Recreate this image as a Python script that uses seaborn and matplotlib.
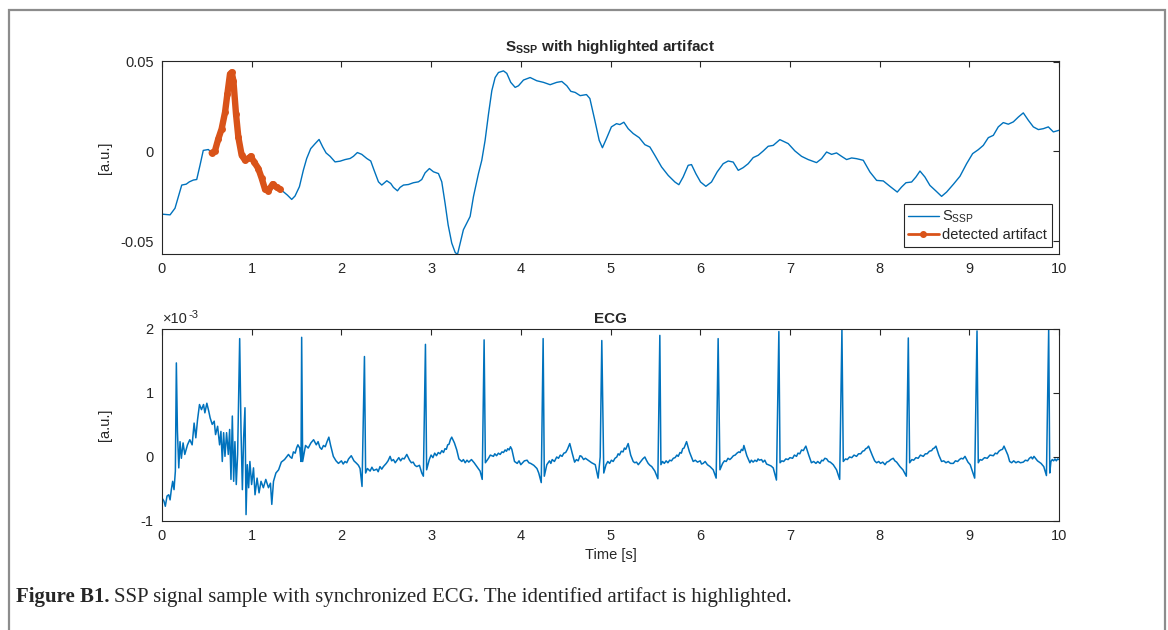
import numpy as np
import pandas as pd
import matplotlib
matplotlib.use("Agg")
import matplotlib.pyplot as plt
import seaborn as sns
from matplotlib.lines import Line2D
from matplotlib.patches import Rectangle

# ---------------------------------------------------------------------------
# SSP signal (time in s, amplitude in a.u.)
ssp_time = [
    0.00, 0.09, 0.145, 0.22, 0.27, 0.305, 0.35, 0.387, 0.424, 0.46, 0.517,
    0.554, 0.59, 0.628, 0.665, 0.703, 0.729, 0.758, 0.777, 0.796, 0.825,
    0.851, 0.888, 0.926, 0.963, 0.989, 1.026, 1.074, 1.112, 1.149, 1.186,
    1.234, 1.279, 1.316, 1.353, 1.398, 1.446, 1.483, 1.532, 1.576, 1.613,
    1.658, 1.706, 1.751, 1.792, 1.829, 1.874, 1.929, 1.985, 2.041, 2.097,
    2.134, 2.178, 2.227, 2.283, 2.327, 2.364, 2.413, 2.45, 2.506, 2.55,
    2.58, 2.625, 2.654, 2.692, 2.747, 2.803, 2.859, 2.896, 2.933, 2.981,
    3.026, 3.082, 3.119, 3.156, 3.19, 3.23, 3.268, 3.294, 3.32, 3.36,
    3.398, 3.435, 3.472, 3.528, 3.565, 3.602, 3.64, 3.677, 3.714, 3.751,
    3.807, 3.844, 3.888, 3.937, 3.974, 4.03, 4.104, 4.178, 4.253, 4.327,
    4.40, 4.457, 4.513, 4.558, 4.606, 4.662, 4.732, 4.77, 4.825, 4.874,
    4.91, 4.955, 5.01, 5.067, 5.104, 5.149, 5.197, 5.253, 5.32, 5.383,
    5.439, 5.494, 5.569, 5.643, 5.718, 5.762, 5.81, 5.866, 5.903, 5.952,
    6.004, 6.063, 6.126, 6.189, 6.256, 6.312, 6.368, 6.424, 6.479, 6.535,
    6.591, 6.647, 6.703, 6.758, 6.814, 6.888, 6.981, 7.056, 7.13, 7.204,
    7.297, 7.353, 7.409, 7.465, 7.52, 7.576, 7.632, 7.688, 7.743, 7.818,
    7.892, 7.967, 8.041, 8.115, 8.197, 8.245, 8.294, 8.357, 8.405, 8.45,
    8.505, 8.561, 8.628, 8.691, 8.747, 8.822, 8.896, 8.97, 9.037, 9.10,
    9.156, 9.212, 9.268, 9.323, 9.379, 9.435, 9.491, 9.547, 9.602, 9.658,
    9.714, 9.77, 9.825, 9.881, 9.937, 10.0,
]
ssp_value = [
    -0.0350, -0.0354, -0.0317, -0.0188, -0.0183, -0.0170, -0.0160, -0.0157,
    -0.0077, 0.0005, 0.0010,
    -0.0009, 0.0002, 0.0070, 0.0125, 0.0218, 0.0320, 0.0430, 0.0440, 0.0393,
    0.0208, 0.0079, -0.0022, -0.0050, -0.0040, -0.0028, -0.0059, -0.0096,
    -0.0151, -0.0212, -0.0220, -0.0183, -0.0201, -0.0212, -0.0225, -0.0244,
    -0.0268, -0.0249, -0.0197, -0.0105, -0.0040, 0.0015, 0.0042, 0.0066,
    0.0024, -0.0009, -0.0028, -0.0059, -0.0055, -0.0046, -0.0040, -0.0028,
    -0.0007, -0.0017, -0.0040, -0.0054, -0.0105, -0.0170, -0.0188, -0.0164,
    -0.0179, -0.0201, -0.0220, -0.0201, -0.0188, -0.0185, -0.0175, -0.0170,
    -0.0157, -0.0120, -0.0096, -0.0114, -0.0124, -0.0170, -0.0290, -0.0410,
    -0.0511, -0.0563, -0.0575, -0.0520, -0.0437, -0.0400, -0.0363, -0.0253,
    -0.0124, -0.0050, 0.0061, 0.0208, 0.0338, 0.0411, 0.0439, 0.0448,
    0.0434, 0.0384, 0.0356, 0.0365, 0.0397, 0.0411, 0.0393, 0.0384, 0.0371,
    0.0384, 0.0389, 0.0365, 0.0334, 0.0328, 0.0310, 0.0316, 0.0294, 0.0173,
    0.0061, 0.0020, 0.0071, 0.0136, 0.0154, 0.0149, 0.0162, 0.0126, 0.0099,
    0.0076, 0.0037, 0.0024, -0.0022, -0.0087, -0.0134, -0.0171, -0.0186,
    -0.0143, -0.0078, -0.0074, -0.0125, -0.0171, -0.0195, -0.0171, -0.0115,
    -0.0069, -0.0054, -0.0060, -0.0106, -0.0091, -0.0069, -0.0035, -0.0022,
    0.0002, 0.0028, 0.0033, 0.0065, 0.0043, 0.0002, -0.0028, -0.0046,
    -0.0063, -0.0041, -0.0004, -0.0017, -0.0009, -0.0028, -0.0046, -0.0037,
    -0.0041, -0.0050, -0.0115, -0.0162, -0.0165, -0.0195, -0.0227, -0.0199,
    -0.0175, -0.0171, -0.0143, -0.0110, -0.0143, -0.0190, -0.0221, -0.0251,
    -0.0227, -0.0184, -0.0139, -0.0069, -0.0013, 0.0009, 0.0033, 0.0076,
    0.0089, 0.0136, 0.0160, 0.0151, 0.0164, 0.0191, 0.0214, 0.0173, 0.0136,
    0.0121, 0.0126, 0.0136, 0.0108, 0.0117,
]

# Interval flagged as an artifact
artifact_start = 0.55
artifact_end = 1.32

# ---------------------------------------------------------------------------
# ECG (time in s, amplitude in units of 1e-3 a.u.)
ecg_time = [
    # noisy onset with motion artifact
    0.000, 0.022, 0.037, 0.056, 0.075, 0.090, 0.104, 0.119, 0.134, 0.149,
    0.160, 0.172, 0.187, 0.201, 0.216, 0.235, 0.254, 0.284, 0.310, 0.336,
    0.358, 0.377, 0.396, 0.418, 0.440, 0.463, 0.478, 0.500, 0.522, 0.537,
    0.560, 0.582, 0.597, 0.620, 0.642, 0.657, 0.672, 0.687, 0.702, 0.720,
    0.739, 0.754, 0.769, 0.784, 0.799, 0.813, 0.828, 0.843, 0.866, 0.881,
    0.896, 0.910, 0.925, 0.937, 0.951, 0.966, 0.980, 0.999, 1.020, 1.037,
    1.060, 1.082, 1.104, 1.130, 1.157, 1.187, 1.209, 1.224, 1.243, 1.270,
    1.300, 1.330, 1.366, 1.388, 1.410, 1.430, 1.448, 1.465, 1.485, 1.500,
    1.515, 1.535, 1.550,
    # beat at 1.57 s
    1.557, 1.568, 1.600, 1.630, 1.660, 1.690, 1.720, 1.740, 1.760, 1.780,
    1.800, 1.820, 1.840, 1.860, 1.880, 1.910, 1.940, 1.967, 2.000, 2.020,
    2.040, 2.060, 2.080, 2.110, 2.140, 2.170, 2.190, 2.208, 2.230,
    # beat at 2.26 s
    2.257, 2.270, 2.290, 2.320, 2.340, 2.360, 2.394, 2.410, 2.430, 2.450,
    2.468, 2.500, 2.520, 2.543, 2.560, 2.580, 2.600, 2.620, 2.640, 2.660,
    2.680, 2.700, 2.729, 2.760, 2.780, 2.800, 2.820, 2.840, 2.870, 2.896,
    2.914,
    # beat at 2.94 s
    2.937, 2.950, 2.980, 3.000, 3.020, 3.040, 3.060, 3.080, 3.100, 3.120,
    3.138, 3.155, 3.170, 3.185, 3.200, 3.215, 3.230, 3.260, 3.286, 3.310,
    3.342, 3.360, 3.380, 3.400, 3.420, 3.450, 3.480, 3.510, 3.546, 3.570,
    # beat at 3.59 s
    3.591, 3.605, 3.640, 3.660, 3.695, 3.710, 3.730, 3.750, 3.770, 3.790,
    3.807, 3.825, 3.840, 3.855, 3.870, 3.885, 3.900, 3.930, 3.960, 3.980,
    4.000, 4.020, 4.040, 4.070, 4.090, 4.110, 4.145, 4.180, 4.200, 4.228,
    # beat at 4.25 s
    4.249, 4.262, 4.290, 4.320, 4.335, 4.350, 4.375, 4.400, 4.420, 4.440,
    4.460, 4.480, 4.500, 4.520, 4.546, 4.575, 4.600, 4.620, 4.640, 4.660,
    4.677, 4.700, 4.720, 4.750, 4.790, 4.830, 4.862, 4.885,
    # beat at 4.90 s
    4.903, 4.925, 4.950, 4.970, 4.990, 5.010, 5.030, 5.050, 5.070, 5.085,
    5.100, 5.120, 5.140, 5.155, 5.170, 5.197, 5.225, 5.253, 5.270, 5.290,
    5.310, 5.327, 5.345, 5.360, 5.383, 5.400, 5.420, 5.440, 5.460, 5.494,
    5.528,
    # beat at 5.55 s
    5.550, 5.562, 5.580, 5.600, 5.620, 5.640, 5.660, 5.680, 5.700, 5.720,
    5.740, 5.755, 5.775, 5.790, 5.805, 5.820, 5.848, 5.880, 5.922, 5.945,
    5.970, 6.000, 6.015, 6.033, 6.055, 6.080, 6.110, 6.145, 6.178,
    # beat at 6.20 s
    6.200, 6.220, 6.250, 6.270, 6.290, 6.310, 6.330, 6.346, 6.370, 6.390,
    6.410, 6.430, 6.445, 6.460, 6.475, 6.487, 6.520, 6.554, 6.570, 6.590,
    6.610, 6.630, 6.645, 6.660, 6.684, 6.700, 6.720, 6.740, 6.758, 6.790,
    6.814, 6.850,
    # beat at 6.88 s
    6.877, 6.890, 6.910, 6.930, 6.955, 6.980, 7.000, 7.030, 7.050, 7.074,
    7.090, 7.110, 7.130, 7.150, 7.165, 7.178, 7.210, 7.240, 7.265, 7.290,
    7.310, 7.335, 7.355, 7.370, 7.390, 7.410, 7.430, 7.450, 7.483, 7.520,
    7.555,
    # beat at 7.58 s
    7.580, 7.595, 7.620, 7.640, 7.665, 7.690, 7.715, 7.743, 7.765, 7.790,
    7.810, 7.830, 7.845, 7.860, 7.877, 7.920, 7.945, 7.967, 7.990, 8.010,
    8.035, 8.060, 8.080, 8.100, 8.125, 8.152, 8.170, 8.190, 8.227, 8.260,
    8.298,
    # beat at 8.32 s
    8.320, 8.335, 8.360, 8.380, 8.405, 8.430, 8.455, 8.487, 8.510, 8.530,
    8.555, 8.580, 8.595, 8.610, 8.628, 8.660, 8.691, 8.715, 8.740, 8.765,
    8.790, 8.822, 8.845, 8.870, 8.890, 8.910, 8.930, 8.952, 8.985, 9.010,
    9.060,
    # beat at 9.09 s
    9.086, 9.100, 9.120, 9.140, 9.170, 9.200, 9.230, 9.268, 9.290, 9.310,
    9.330, 9.350, 9.370, 9.387, 9.430, 9.450, 9.472, 9.495, 9.520, 9.545,
    9.570, 9.602, 9.625, 9.650, 9.670, 9.690, 9.705, 9.721, 9.760, 9.800,
    9.830, 9.860,
    # beat at 9.89 s
    9.885, 9.897, 9.910, 9.925, 9.940, 9.955, 9.970, 9.985, 10.000,
]
ecg_value = [
    -0.64, -0.69, -0.77, -0.61, -0.59, -0.67, -0.51, -0.38, -0.51, -0.22,
    1.47, 0.40, -0.17, 0.24, -0.02, 0.22, 0.04, 0.19, 0.27, 0.19,
    0.53, 0.30, 0.58, 0.82, 0.74, 0.82, 0.69, 0.84, 0.71, 0.61,
    0.51, 0.56, 0.35, 0.48, 0.19, 0.40, -0.07, 0.38, 0.01, 0.38,
    0.04, 0.43, -0.35, 0.64, -0.38, 0.24, -0.43, 0.04, 1.85, 0.40,
    -0.51, 0.30, 0.77, -0.90, -0.12, -0.48, -0.07, -0.43, -0.17, -0.59,
    -0.33, -0.56, -0.38, -0.48, -0.35, -0.48, -0.41, -0.74, -0.38, -0.25,
    -0.20, -0.08, -0.04, 0.00, 0.04, 0.00, -0.02, 0.08, 0.06, 0.14,
    0.19, 0.14, -0.07,
    # beat at 1.57 s
    1.87, -0.07, 0.18, 0.14, 0.22, 0.27, 0.19, 0.24, 0.15, 0.12,
    0.18, 0.16, 0.24, 0.31, 0.18, 0.01, -0.06, -0.10, -0.06, -0.11,
    -0.07, -0.09, -0.03, 0.02, -0.06, -0.10, -0.13, -0.18, -0.46,
    # beat at 2.26 s
    1.57, -0.25, -0.18, -0.22, -0.16, -0.21, -0.19, -0.23, -0.15, -0.19,
    -0.15, -0.10, -0.06, 0.01, -0.06, -0.04, -0.09, -0.05, -0.01, -0.06,
    -0.02, -0.03, 0.04, -0.05, -0.09, -0.08, -0.13, -0.15, -0.13, -0.25,
    -0.30,
    # beat at 2.94 s
    1.76, -0.20, -0.04, 0.03, -0.01, 0.06, 0.02, 0.07, 0.05, 0.10,
    0.07, 0.13, 0.12, 0.19, 0.20, 0.27, 0.31, 0.22, 0.11, -0.03,
    -0.07, -0.04, -0.09, -0.05, -0.08, -0.04, -0.09, -0.15, -0.22, -0.35,
    # beat at 3.59 s
    1.83, -0.09, -0.02, 0.03, 0.01, 0.05, 0.02, 0.06, 0.04, 0.08,
    0.07, 0.11, 0.09, 0.13, 0.11, 0.16, 0.12, -0.07, -0.10, -0.06,
    -0.12, -0.09, -0.06, -0.05, -0.09, -0.10, -0.13, -0.18, -0.25, -0.40,
    # beat at 4.25 s
    1.85, -0.30, -0.12, -0.06, -0.10, -0.04, -0.07, 0.00, -0.02, 0.03,
    0.01, 0.06, 0.07, 0.12, 0.21, 0.05, -0.08, -0.04, -0.06, 0.02,
    0.01, -0.04, -0.02, -0.05, -0.09, -0.12, -0.33, 0.00,
    # beat at 4.90 s
    1.82, -0.25, -0.12, -0.07, -0.10, -0.05, -0.07, -0.02, 0.00, 0.05,
    0.03, 0.09, 0.08, 0.14, 0.12, 0.21, 0.03, -0.07, -0.09, -0.08,
    -0.12, -0.09, -0.06, -0.03, 0.00, -0.05, -0.10, -0.13, -0.15, -0.22,
    -0.34,
    # beat at 5.55 s
    1.90, -0.12, -0.07, -0.10, -0.06, -0.09, -0.05, -0.06, -0.02, -0.01,
    0.03, 0.01, 0.07, 0.06, 0.13, 0.14, 0.24, 0.08, -0.07, -0.05,
    -0.08, -0.06, -0.11, -0.10, -0.07, -0.12, -0.15, -0.20, -0.33,
    # beat at 6.20 s
    1.85, -0.20, -0.10, -0.06, -0.07, -0.02, -0.04, -0.02, 0.02, 0.03,
    0.06, 0.08, 0.07, 0.12, 0.10, 0.18, 0.02, -0.09, -0.05, -0.08,
    -0.05, -0.07, -0.03, -0.05, -0.04, -0.08, -0.05, -0.11, -0.12, -0.14,
    -0.17, -0.36,
    # beat at 6.88 s
    1.96, -0.09, -0.06, -0.07, -0.03, -0.04, -0.01, -0.02, 0.03, 0.01,
    0.06, 0.05, 0.11, 0.10, 0.14, 0.17, 0.03, -0.09, -0.07, -0.10,
    -0.07, -0.10, -0.05, -0.06, -0.02, -0.03, -0.07, -0.08, -0.12, -0.20,
    -0.35,
    # beat at 7.58 s
    1.99, -0.07, -0.03, -0.04, 0.00, -0.01, 0.03, 0.01, 0.05, 0.05,
    0.09, 0.10, 0.13, 0.14, 0.17, 0.02, -0.06, -0.09, -0.07, -0.10,
    -0.08, -0.12, -0.08, -0.07, -0.04, -0.02, -0.06, -0.08, -0.15, -0.20,
    -0.30,
    # beat at 8.32 s
    1.86, -0.09, -0.04, -0.05, -0.01, -0.02, 0.03, 0.01, 0.05, 0.05,
    0.09, 0.10, 0.13, 0.14, 0.17, 0.03, -0.07, -0.06, -0.09, -0.07,
    -0.10, -0.10, -0.06, -0.07, -0.04, -0.02, -0.03, 0.01, -0.08, -0.12,
    -0.33,
    # beat at 9.09 s
    1.97, -0.09, -0.04, -0.05, -0.01, -0.02, 0.03, 0.02, 0.06, 0.05,
    0.09, 0.11, 0.12, 0.17, 0.03, -0.07, -0.09, -0.06, -0.09, -0.07,
    -0.09, -0.08, -0.05, -0.06, -0.02, 0.00, -0.03, 0.01, -0.06, -0.10,
    -0.15, -0.29,
    # beat at 9.89 s
    2.00, -0.25, -0.07, -0.04, -0.06, -0.03, -0.06, -0.03, -0.04,
]

# ---------------------------------------------------------------------------
ssp = pd.DataFrame({"time": ssp_time, "value": ssp_value})
artifact = ssp[(ssp["time"] >= artifact_start) & (ssp["time"] <= artifact_end)]
ecg = pd.DataFrame({"time": ecg_time, "value": np.asarray(ecg_value) * 1e-3})

BLUE = "#0072BD"
ORANGE = "#D95319"
AXIS_GREY = "#262626"

sns.set_theme(style="white")
plt.rcParams["font.family"] = ["Liberation Sans", "DejaVu Sans"]
plt.rcParams["axes.unicode_minus"] = False
plt.rcParams["mathtext.fontset"] = "custom"
plt.rcParams["mathtext.rm"] = "Liberation Sans"
plt.rcParams["mathtext.bf"] = "Liberation Sans:bold"

fig = plt.figure(figsize=(11.68, 6.30), dpi=100)
W, H = 1168, 630


def px_axes(left, top, right, bottom):
    return fig.add_axes([left / W, 1 - bottom / H, (right - left) / W, (bottom - top) / H])


ax1 = px_axes(162, 61, 1059, 254)
ax2 = px_axes(162, 329, 1059, 521)

sns.lineplot(data=ssp, x="time", y="value", ax=ax1, color=BLUE,
             linewidth=1.0, estimator=None, sort=False)
sns.lineplot(data=artifact, x="time", y="value", ax=ax1, color=ORANGE,
             linewidth=4.6, marker="o", markersize=5, markeredgewidth=0,
             estimator=None, sort=False)
sns.lineplot(data=ecg, x="time", y="value", ax=ax2, color=BLUE,
             linewidth=1.1, estimator=None, sort=False)

ax1.set_xlim(0, 10)
ax1.set_ylim(-0.0572, 0.0503)
ax1.set_yticks([-0.05, 0, 0.05])
ax1.set_yticklabels(["-0.05", "0", "0.05"])

ax2.set_xlim(0, 10)
ax2.set_ylim(-1e-3, 2e-3)
ax2.set_yticks([-1e-3, 0, 1e-3, 2e-3])
ax2.set_yticklabels(["-1", "0", "1", "2"])

for ax in (ax1, ax2):
    ax.set_xticks(range(0, 11))
    ax.set_xticklabels([str(v) for v in range(0, 11)])
    ax.set_xlabel("")
    ax.set_ylabel("[a.u.]", fontsize=10.5, color=AXIS_GREY)
    ax.yaxis.set_label_coords(-0.0557, 0.5)
    ax.tick_params(direction="in", length=4, width=0.8, colors=AXIS_GREY,
                   labelsize=10.5, top=True, right=True, pad=6,
                   labelcolor=AXIS_GREY)
    for sp in ax.spines.values():
        sp.set_visible(True)
        sp.set_color(AXIS_GREY)
        sp.set_linewidth(0.8)

# Exponent marker of the ECG axis
ax2.text(0.001, 1.015, "\u00d710", transform=ax2.transAxes, fontsize=10.5,
         color=AXIS_GREY, ha="left", va="bottom")
ax2.text(0.029, 1.045, "-3", transform=ax2.transAxes, fontsize=8,
         color=AXIS_GREY, ha="left", va="bottom")

ax1.set_title(r"$\mathbf{S_{SSP}}$ with highlighted artifact",
              fontsize=11, fontweight="bold", pad=7)
ax2.set_title("ECG", fontsize=11, fontweight="bold", pad=4)
ax2.set_xlabel("Time [s]", fontsize=10.5, color=AXIS_GREY, labelpad=3)

handles = [
    Line2D([], [], color=BLUE, linewidth=1.0),
    Line2D([], [], color=ORANGE, linewidth=2.0, marker="o", markersize=4),
]
leg = ax1.legend(handles, [r"S$_{\mathrm{SSP}}$", "detected artifact"],
                 loc="lower right", fontsize=10.5, frameon=True, fancybox=False,
                 framealpha=1, edgecolor=AXIS_GREY, borderpad=0.3,
                 handlelength=2.1, handletextpad=0.25, labelspacing=0.2,
                 borderaxespad=0.5)
leg.get_frame().set_linewidth(0.8)

# Page border and caption
fig.patches.append(Rectangle((9 / W, -0.05), (1165 - 9) / W, 1.05 - 10 / H,
                             transform=fig.transFigure, fill=False,
                             edgecolor="#8c8c8c", linewidth=1.6))
cap_y = 1 - 597 / H
bold = fig.text(16 / W, cap_y, "Figure B1.", fontsize=15, fontweight="bold",
                family="Liberation Serif", va="center", ha="left")
fig.canvas.draw()
bb = bold.get_window_extent()
fig.text((bb.x1 + 5) / W, cap_y,
         "SSP signal sample with synchronized ECG. The identified artifact is highlighted.",
         fontsize=15, family="Liberation Serif", va="center", ha="left")

fig.savefig("out.png", dpi=100, facecolor="white")
